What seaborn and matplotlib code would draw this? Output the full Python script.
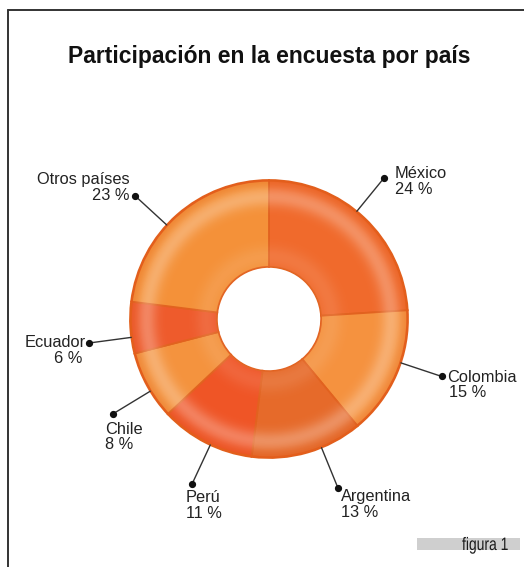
import numpy as np
import matplotlib
matplotlib.use("Agg")
import matplotlib.pyplot as plt
from matplotlib.patches import Wedge, Rectangle
from matplotlib.lines import Line2D
from matplotlib.patheffects import AbstractPathEffect
from matplotlib.transforms import Affine2D
import seaborn as sns

# Survey participation by country (percent), clockwise from the top
countries = ["México", "Colombia", "Argentina", "Perú", "Chile", "Ecuador", "Otros países"]
shares = [24, 15, 13, 11, 8, 6, 23]
title = "Participación en la encuesta por país"
caption = "figura 1"

slice_colors = ["#F06A2C", "#F5923F", "#E66A2A", "#EF5526", "#F4933E", "#EE5B2C", "#F49139"]

sns.set_theme(style="white")
plt.rcParams["font.family"] = ["Liberation Sans", "DejaVu Sans"]


class Condensed(AbstractPathEffect):
    """Draw text narrowed horizontally about its own origin."""

    def __init__(self, sx):
        super().__init__()
        self.sx = sx

    def draw_path(self, renderer, gc, tpath, affine, rgbFace=None):
        x0, y0 = affine.get_matrix()[0:2, 2]
        squeeze = Affine2D().translate(-x0, -y0).scale(self.sx, 1.0).translate(x0, y0)
        renderer.draw_path(gc, tpath, affine + squeeze, rgbFace)


W, H = 524, 567
PX = 139.0             # ring radius in pixels
CX, CY = 269, 319      # ring centre in pixels (from top-left)

fig = plt.figure(figsize=(W / 100, H / 100), dpi=100)
fig.patch.set_facecolor("white")
ax = fig.add_axes([0, 0, 1, 1])

HOLE = 0.375
wedges, _ = ax.pie(shares, colors=slice_colors, startangle=90, counterclock=False,
                   radius=1.0, wedgeprops=dict(width=1 - HOLE, edgecolor="#E2621F",
                                               linewidth=1.3))

# Glossy shading over the ring
n = 500
g = np.linspace(-1, 1, n)
xx, yy = np.meshgrid(g, g)
rr = np.hypot(xx, yy)
hi = 0.26 * np.exp(-((rr - 0.88) / 0.07) ** 2)
inner = 0.10 * np.exp(-((rr - 0.45) / 0.08) ** 2)
shade = np.zeros((n, n, 4))
shade[..., 0:3] = 1.0
shade[..., 3] = hi + inner
img = ax.imshow(shade, extent=(-1, 1, -1, 1), origin="lower", zorder=3,
                interpolation="bilinear")
img.set_clip_path(Wedge((0, 0), 1.0, 0, 360, width=1 - HOLE, transform=ax.transData))
dark = np.zeros((n, n, 4))
dark[..., 0:3] = (0.85, 0.30, 0.05)
dark[..., 3] = 0.18 * np.clip((rr - 0.93) / 0.07, 0, 1)
img2 = ax.imshow(dark, extent=(-1, 1, -1, 1), origin="lower", zorder=3,
                 interpolation="bilinear")
img2.set_clip_path(Wedge((0, 0), 1.0, 0, 360, width=1 - HOLE, transform=ax.transData))

ax.set_xlim(-CX / PX, (W - CX) / PX)
ax.set_ylim(-(H - CY) / PX, CY / PX)
ax.set_aspect("equal")
ax.axis("off")

# Outer rim
ax.add_patch(Wedge((0, 0), 1.0, 0, 360, width=0.012, facecolor="#E45E1C",
                   edgecolor="none", zorder=4))

# Leader lines and labels
label_layout = [
    # (name dx, name dy, pct dx, pct dy, ha, leader angle shift in degrees), pixels
    (11, -4, 11, 12, "left", 4),
    (5, 1, 7, 16, "left", 5),
    (3, 9, 3, 25, "left", 6),
    (-6, 13, -6, 29, "left", 2),
    (-8, 16, -8, 31, "left", 2.5),
    (-3, -1, -6, 15, "right", 4),
    (-5, -16, -5, 0, "right", 6),
]
total = float(sum(shares))
start = 90.0
for name, val, lay in zip(countries, shares, label_layout):
    sweep = 360.0 * val / total
    ndx, ndy, pdx, pdy, ha, shift = lay
    mid = np.deg2rad(start - sweep / 2 + shift)
    start -= sweep
    x0, y0 = np.cos(mid) * 1.0, np.sin(mid) * 1.0
    x1, y1 = np.cos(mid) * 1.31, np.sin(mid) * 1.31
    ax.add_line(Line2D([x0, x1], [y0, y1], color="#333333", lw=1.0, zorder=5))
    ax.plot([x1], [y1], "o", color="#111111", ms=4.2, zorder=6)
    ax.text(x1 + ndx / PX, y1 - ndy / PX, name, ha=ha, va="center",
            fontsize=11.8, color="#222222", zorder=6)
    ax.text(x1 + pdx / PX, y1 - pdy / PX, f"{val} %", ha=ha, va="center",
            fontsize=11.8, color="#222222", zorder=6)

# Title
fig.text(269 / W, 1 - 57 / H, title, ha="center", va="center",
         fontsize=16.5, fontweight="bold", color="#111111")

# Frame (top and left)
fig.add_artist(Line2D([8 / W, 1], [1 - 10 / H, 1 - 10 / H], transform=fig.transFigure,
                      color="#333333", lw=1.4))
fig.add_artist(Line2D([8 / W, 8 / W], [1 - 10 / H, 0], transform=fig.transFigure,
                      color="#333333", lw=1.4))

# Caption tag
fig.add_artist(Rectangle((417 / W, 1 - 550 / H), 103 / W, 12 / H, transform=fig.transFigure,
                         facecolor="#CFCFCF", edgecolor="none"))
fig.text(462 / W, 1 - 550 / H, caption, ha="left", va="baseline", fontsize=13,
         color="#1A1A1A", path_effects=[Condensed(0.77)])

fig.savefig("out.png", dpi=100, facecolor="white")
